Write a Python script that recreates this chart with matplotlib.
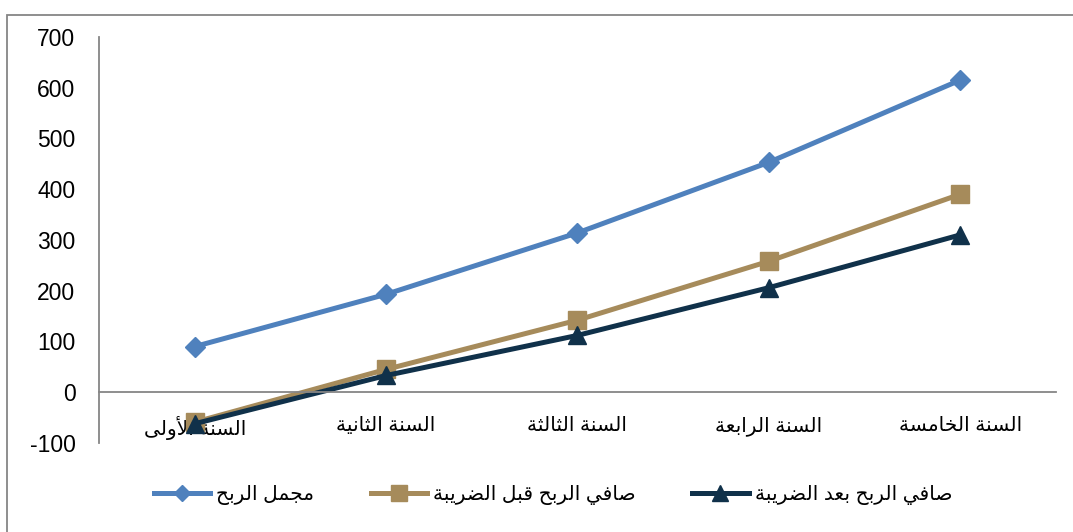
import matplotlib.pyplot as plt
from matplotlib.patches import Rectangle

# Arabic letters -> (isolated, final, initial, medial); right-joining letters have no initial/medial
FORMS = {
    'ا': ('\uFE8D', '\uFE8E', None, None),
    'أ': ('\uFE83', '\uFE84', None, None),
    'ب': ('\uFE8F', '\uFE90', '\uFE91', '\uFE92'),
    'ة': ('\uFE93', '\uFE94', None, None),
    'ث': ('\uFE99', '\uFE9A', '\uFE9B', '\uFE9C'),
    'ج': ('\uFE9D', '\uFE9E', '\uFE9F', '\uFEA0'),
    'ح': ('\uFEA1', '\uFEA2', '\uFEA3', '\uFEA4'),
    'خ': ('\uFEA5', '\uFEA6', '\uFEA7', '\uFEA8'),
    'د': ('\uFEA9', '\uFEAA', None, None),
    'ر': ('\uFEAD', '\uFEAE', None, None),
    'س': ('\uFEB1', '\uFEB2', '\uFEB3', '\uFEB4'),
    'ص': ('\uFEB9', '\uFEBA', '\uFEBB', '\uFEBC'),
    'ض': ('\uFEBD', '\uFEBE', '\uFEBF', '\uFEC0'),
    'ع': ('\uFEC9', '\uFECA', '\uFECB', '\uFECC'),
    'ف': ('\uFED1', '\uFED2', '\uFED3', '\uFED4'),
    'ق': ('\uFED5', '\uFED6', '\uFED7', '\uFED8'),
    'ل': ('\uFEDD', '\uFEDE', '\uFEDF', '\uFEE0'),
    'م': ('\uFEE1', '\uFEE2', '\uFEE3', '\uFEE4'),
    'ن': ('\uFEE5', '\uFEE6', '\uFEE7', '\uFEE8'),
    'و': ('\uFEED', '\uFEEE', None, None),
    'ى': ('\uFEEF', '\uFEF0', None, None),
    'ي': ('\uFEF1', '\uFEF2', '\uFEF3', '\uFEF4'),
    # lam-alef ligatures
    'LA': ('\uFEFB', '\uFEFC', None, None),
    'LAH': ('\uFEF7', '\uFEF8', None, None),
}


def shape(text):
    # join lam + alef into ligatures first
    toks = []
    i = 0
    while i < len(text):
        if text[i] == 'ل' and i + 1 < len(text) and text[i + 1] in 'اأ':
            toks.append('LA' if text[i + 1] == 'ا' else 'LAH')
            i += 2
        else:
            toks.append(text[i])
            i += 1
    out = []
    for k, t in enumerate(toks):
        if t not in FORMS:
            out.append(t)
            continue
        iso, fin, ini, med = FORMS[t]
        prev = toks[k - 1] if k > 0 else None
        nxt = toks[k + 1] if k + 1 < len(toks) else None
        jp = prev in FORMS and FORMS[prev][2] is not None
        jn = ini is not None and nxt in FORMS
        if jp and jn:
            out.append(med)
        elif jp:
            out.append(fin)
        elif jn:
            out.append(ini)
        else:
            out.append(iso)
    return ''.join(reversed(out))


years = ['السنة الأولى', 'السنة الثانية', 'السنة الثالثة', 'السنة الرابعة', 'السنة الخامسة']
gross_profit = [90, 193, 314, 453, 615]
net_before_tax = [-59, 45, 142, 258, 390]
net_after_tax = [-62, 33, 112, 206, 310]
series_names = ['مجمل الربح', 'صافي الربح قبل الضريبة', 'صافي الربح بعد الضريبة']

plt.rcParams['font.family'] = ['Liberation Sans', 'DejaVu Sans']
plt.rcParams['axes.unicode_minus'] = False

fig = plt.figure(figsize=(10.73, 5.32), dpi=100)
ax = fig.add_axes([0.0923, 0.1673, 0.8917, 0.7632])

x = range(len(years))
ax.plot(x, gross_profit, color='#4F81BD', lw=3.6, marker='D', ms=10,
        label=shape(series_names[0]))
ax.plot(x, net_before_tax, color='#A68B5B', lw=3.6, marker='s', ms=13.5,
        label=shape(series_names[1]))
ax.plot(x, net_after_tax, color='#10314A', lw=3.6, marker='^', ms=13.5,
        label=shape(series_names[2]))

ax.set_xlim(-0.5, len(years) - 0.5)
ax.set_ylim(-100, 700)
ax.set_yticks(range(-100, 701, 100))
ax.set_xticks(list(x))
ax.set_xticklabels([shape(y) for y in years])

for s in ['top', 'right']:
    ax.spines[s].set_visible(False)
ax.spines['bottom'].set_position(('data', 0))
ax.spines['bottom'].set_color('#868686')
ax.spines['left'].set_color('#868686')
ax.spines['bottom'].set_linewidth(1.3)
ax.spines['left'].set_linewidth(1.3)
ax.tick_params(axis='both', length=0)
ax.tick_params(axis='x', pad=17, labelsize=14.5)
ax.tick_params(axis='y', pad=17, labelsize=16.5)

fig.legend(loc='center', bbox_to_anchor=(553 / 1073, 1 - 495 / 532), ncol=3,
           frameon=False, fontsize=14.5, handlelength=2.8, columnspacing=2.8,
           handletextpad=0.3, markerscale=0.85)

# chart area border
fig.patches.append(Rectangle((7 / 1073, -0.1), 1.2, 1.072, transform=fig.transFigure,
                             fill=False, edgecolor='#868686', lw=1.3))

fig.savefig('out.png', dpi=100)
